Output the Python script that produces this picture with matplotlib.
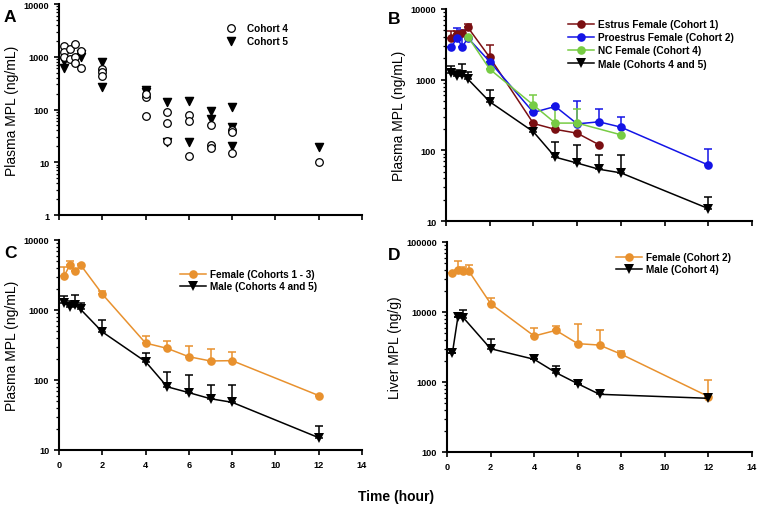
import matplotlib
matplotlib.use("Agg")
import matplotlib.pyplot as plt
import matplotlib.ticker as mticker
import numpy as np

plt.rcParams.update({
    "font.family": ["Liberation Sans", "DejaVu Sans"],
    "font.weight": "bold",
    "font.size": 6.5,
    "axes.linewidth": 1.5,
    "axes.spines.top": False,
    "axes.spines.right": False,
    "xtick.direction": "out",
    "ytick.direction": "out",
    "xtick.major.width": 1.2,
    "ytick.major.width": 1.2,
    "ytick.minor.width": 0.9,
    "xtick.major.size": 3.5,
    "ytick.major.size": 3.5,
    "ytick.minor.size": 2.0,
    "xtick.labelsize": 6.6,
    "ytick.labelsize": 6.6,
})

MAROON = "#7A0F12"
BLUE = "#1414E6"
GREEN = "#77CC44"
ORANGE = "#E8912E"
BLACK = "#000000"

# ---------------------------------------------------------------------------
# Panel A: individual animals
# ---------------------------------------------------------------------------
a_c4_t = [0.25, 0.25, 0.25, 0.5, 0.5, 0.75, 0.75, 0.75, 1, 1,
          2, 2, 2, 4, 4, 4, 5, 5, 5, 6, 6, 6, 7, 7, 7, 8, 8, 8, 12]
a_c4_v = [1600, 1250, 1000, 1400, 900, 1750, 1000, 750, 1300, 620,
          580, 505, 440, 170, 196, 76, 90, 55, 25.7, 78, 61, 13.3,
          51, 21, 18.5, 41, 37, 15, 10]
a_c5_t = [0.25, 0.25, 1, 1, 2, 2, 4, 4, 5, 5, 6, 6, 7, 7, 8, 8, 8, 12]
a_c5_v = [820, 620, 1150, 1000, 800, 263, 237, 217, 136, 24.7, 147, 24.5,
          92, 66, 113, 46, 20.5, 19.7]

# ---------------------------------------------------------------------------
# Panels B/C: plasma means with upper SD
# ---------------------------------------------------------------------------
estrus_t = [0.25, 0.5, 0.75, 1, 2, 4, 5, 6, 7]
estrus_v = [3900, 4400, 4600, 5500, 2070, 240, 198, 175, 120]
estrus_top = [4900, 4950, None, 6100, 3120, None, None, None, None]

proestrus_t = [0.25, 0.5, 0.75, 1, 2, 4, 5, 6, 7, 8, 12]
proestrus_v = [2920, 3880, 2920, 3900, 1800, 344, 418, 237, 253, 213, 62]
proestrus_top = [None, 5300, 5000, None, None, None, None, 500, 385, 300, 104]

nc_t = [1, 2, 4, 5, 6, 8]
nc_v = [4070, 1410, 437, 243, 243, 166]
nc_top = [None, None, 611, 395, 385, None]

male_t = [0.25, 0.5, 0.75, 1, 2, 4, 5, 6, 7, 8, 12]
male_v = [1240, 1110, 1160, 1020, 487, 183, 80, 66, 54, 48, 15]
male_top = [1570, 1350, 1660, 1270, 720, 245, 132, 119, 85, 85, 22]

fem_t = [0.25, 0.5, 0.75, 1, 2, 4, 5, 6, 7, 8, 12]
fem_v = [3100, 4400, 3570, 4400, 1690, 337, 283, 215, 187, 189, 60]
fem_top = [4160, 4970, None, 4600, 1890, 430, 356, 305, 277, 254, None]

# ---------------------------------------------------------------------------
# Panel D: liver
# ---------------------------------------------------------------------------
liv_f_t = [0.25, 0.5, 0.75, 1, 2, 4, 5, 6, 7, 8, 12]
liv_f_v = [36500, 39800, 38500, 38500, 13200, 4540, 5470, 3530, 3370, 2490, 620]
liv_f_top = [None, 53500, 44000, 46400, 16000, 5970, 6300, 6670, 5530, 2770, 1080]

liv_m_t = [0.25, 0.5, 0.75, 2, 4, 5, 6, 7, 12]
liv_m_v = [2620, 8490, 8300, 2990, 2110, 1360, 946, 667, 585]
liv_m_top = [None, None, 10600, 4160, None, 1670, None, 770, None]

x_ticks = [0, 2, 4, 6, 8, 10, 12, 14]


def upper_err(vals, tops):
    return [[0] * len(vals),
            [(t - v) if t is not None else 0 for v, t in zip(vals, tops)]]


def series(ax, t, v, top, color, marker, label):
    ax.errorbar(t, v, yerr=upper_err(v, top), fmt="none", ecolor=color,
                elinewidth=1.1, capsize=3, capthick=1.1, zorder=2)
    ax.plot(t, v, color=color, marker=marker,
            markersize=6.2 if marker == "o" else 6.6, linewidth=1.1,
            markeredgewidth=0, label=label, zorder=3)


def style(ax, ylim, ticklabels=True, ylabel="Plasma MPL (ng/mL)"):
    ax.set_yscale("log")
    ax.set_ylim(*ylim)
    ax.set_xlim(0, 14)
    ax.set_xticks(x_ticks)
    ax.xaxis.set_major_formatter(mticker.FormatStrFormatter("%d"))
    if not ticklabels:
        ax.set_xticklabels([])
    ax.yaxis.set_major_locator(mticker.LogLocator(base=10, numticks=10))
    ax.yaxis.set_minor_locator(mticker.LogLocator(base=10, subs=np.arange(2, 10), numticks=10))
    ax.yaxis.set_major_formatter(mticker.FuncFormatter(lambda y, _: f"{y:g}" if y < 1e5 else "100000"))
    ax.yaxis.set_minor_formatter(mticker.NullFormatter())
    ax.set_ylabel(ylabel, fontsize=10, labelpad=3)


fig = plt.figure(figsize=(7.59, 5.10), dpi=100)
W, H = 759, 510


def add_axes(l, r, t, b):
    return fig.add_axes([l / W, 1 - b / H, (r - l) / W, (b - t) / H])


axA = add_axes(59, 362, 5, 216)
axB = add_axes(446, 752, 10, 222)
axC = add_axes(59, 362, 241, 451)
axD = add_axes(447, 752, 243, 453)

# Panel A
axA.scatter(a_c4_t, a_c4_v, s=30, facecolors="white", edgecolors=BLACK,
            linewidths=0.9, label="Cohort 4", zorder=3)
axA.scatter(a_c5_t, a_c5_v, s=34, marker="v", color=BLACK,
            label="Cohort 5", zorder=2)
style(axA, (1, 10000), ticklabels=False)
axA.legend(loc="upper left", bbox_to_anchor=(0.52, 0.93), frameon=False,
           fontsize=7.2, handletextpad=0.6, labelspacing=0.3, borderaxespad=0)

# Panel B
series(axB, estrus_t, estrus_v, estrus_top, MAROON, "o", "Estrus Female (Cohort 1)")
series(axB, proestrus_t, proestrus_v, proestrus_top, BLUE, "o", "Proestrus Female (Cohort 2)")
series(axB, nc_t, nc_v, nc_top, GREEN, "o", "NC Female (Cohort 4)")
series(axB, male_t, male_v, male_top, BLACK, "v", "Male (Cohorts 4 and 5)")
style(axB, (10, 10000), ticklabels=False)
axB.legend(loc="upper left", bbox_to_anchor=(0.385, 0.97), frameon=False,
           fontsize=7.3, handlelength=2.6, handletextpad=0.4,
           labelspacing=0.3, borderaxespad=0)

# Panel C
series(axC, fem_t, fem_v, fem_top, ORANGE, "o", "Female (Cohorts 1 - 3)")
series(axC, male_t, male_v, male_top, BLACK, "v", "Male (Cohorts 4 and 5)")
style(axC, (10, 10000))
axC.legend(loc="upper left", bbox_to_anchor=(0.385, 0.88), frameon=False,
           fontsize=7.2, handlelength=2.6, handletextpad=0.4,
           labelspacing=0.2, borderaxespad=0)

# Panel D
series(axD, liv_f_t, liv_f_v, liv_f_top, ORANGE, "o", "Female (Cohort 2)")
series(axD, liv_m_t, liv_m_v, liv_m_top, BLACK, "v", "Male (Cohort 4)")
style(axD, (100, 100000), ylabel="Liver MPL (ng/g)")
axD.legend(loc="upper left", bbox_to_anchor=(0.54, 0.97), frameon=False,
           fontsize=7.2, handlelength=2.6, handletextpad=0.4,
           labelspacing=0.2, borderaxespad=0)

# Panel letters
for x, y, s in [(4, 17, "A"), (388, 20, "B"), (4, 254, "C"), (388, 256, "D")]:
    fig.text(x / W, 1 - y / H, s, fontsize=12.5, fontweight="bold", va="center")

fig.text(396 / W, 1 - 497 / H, "Time (hour)", fontsize=10, fontweight="bold",
         ha="center", va="center")

fig.savefig("out.png", dpi=100, facecolor="white")
